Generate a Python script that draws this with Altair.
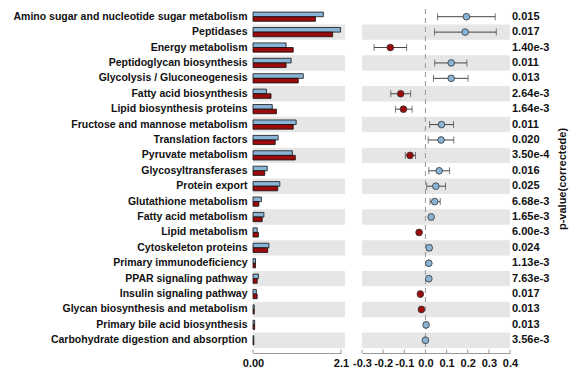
import altair as alt
import pandas as pd

categories = [
    "Amino sugar and nucleotide sugar metabolism", "Peptidases", "Energy metabolism",
    "Peptidoglycan biosynthesis", "Glycolysis / Gluconeogenesis", "Fatty acid biosynthesis",
    "Lipid biosynthesis proteins", "Fructose and mannose metabolism", "Translation factors",
    "Pyruvate metabolism", "Glycosyltransferases", "Protein export", "Glutathione metabolism",
    "Fatty acid metabolism", "Lipid metabolism", "Cytoskeleton proteins",
    "Primary immunodeficiency", "PPAR signaling pathway", "Insulin signaling pathway",
    "Glycan biosynthesis and metabolism", "Primary bile acid biosynthesis",
    "Carbohydrate digestion and absorption"]
mean_blue = [1.68, 2.09, 0.79, 0.91, 1.20, 0.32, 0.46, 1.03, 0.60, 0.94, 0.34, 0.64,
             0.20, 0.26, 0.10, 0.38, 0.06, 0.13, 0.08, 0.03, 0.04, 0.02]
mean_red = [1.49, 1.90, 0.96, 0.79, 1.08, 0.43, 0.56, 0.96, 0.53, 1.01, 0.28, 0.59,
            0.14, 0.22, 0.13, 0.35, 0.06, 0.10, 0.10, 0.03, 0.04, 0.02]
diff = [0.194, 0.188, -0.166, 0.122, 0.122, -0.117, -0.104, 0.076, 0.074, -0.073, 0.065,
        0.049, 0.044, 0.027, -0.030, 0.018, 0.016, 0.016, -0.024, -0.019, 0.003, 0.000]
ci_low = [0.057, 0.043, -0.243, 0.044, 0.038, -0.164, -0.142, 0.020, 0.013, -0.095, 0.016,
          0.006, 0.022, 0.020, -0.036, 0.008, 0.012, 0.012, -0.030, -0.024, 0.001, -0.002]
ci_high = [0.330, 0.335, -0.089, 0.196, 0.202, -0.070, -0.063, 0.133, 0.134, -0.047, 0.114,
           0.095, 0.070, 0.035, -0.024, 0.028, 0.020, 0.020, -0.018, -0.014, 0.005, 0.002]
pvalues = ["0.015", "0.017", "1.40e-3", "0.011", "0.013", "2.64e-3", "1.64e-3", "0.011",
           "0.020", "3.50e-4", "0.016", "0.025", "6.68e-3", "1.65e-3", "6.00e-3", "0.024",
           "1.13e-3", "7.63e-3", "0.017", "0.013", "0.013", "3.56e-3"]
left_ticks = [0.0, 2.1]
right_ticks = [-0.3, -0.2, -0.1, 0.0, 0.1, 0.2, 0.3, 0.4]

BLUE = "#8ab4d6"
RED = "#9c0b0b"
STRIPE = "#e6e6e6"
FONT = "Liberation Sans"
H = 339
WL = 88
WR = 148

df = pd.DataFrame({"cat": categories, "diff": diff, "lo": ci_low, "hi": ci_high, "p": pvalues})
df["idx"] = range(len(categories))
df["sign"] = ["pos" if d >= 0 else "neg" for d in diff]

bars_df = pd.concat([
    pd.DataFrame({"cat": categories, "value": mean_blue, "grp": "A"}),
    pd.DataFrame({"cat": categories, "value": mean_red, "grp": "B"}),
])

yscale = alt.Scale(domain=categories, paddingInner=0, paddingOuter=0)

# ---------- left panel ----------
y_left = alt.Y("cat:N", scale=yscale,
               axis=alt.Axis(title=None, ticks=False, domain=False, labelFont=FONT,
                             labelFontWeight="bold", labelFontSize=10.5, labelPadding=6,
                             labelColor="#111", labelLimit=400))

stripes_l = alt.Chart(df).transform_filter("datum.idx % 2 == 1").mark_rect(color=STRIPE).encode(
    y=y_left, x=alt.value(0), x2=alt.value(WL + 4))

xl_scale = alt.Scale(domain=[0, 2.1], nice=False)
xl_axis = alt.Axis(values=left_ticks, labelExpr="datum.value == 0 ? '0.00' : '2.1'",
                   ticks=False, grid=False, offset=5, domainColor="#999", labelFlush=False,
                   labelOverlap=False,
                   labelFont=FONT, labelFontWeight="bold", labelFontSize=11, labelColor="#111",
                   labelPadding=4, title="Mean proportion(%)", titleAnchor="start",
                   titleFont=FONT, titleFontWeight="bold", titleFontSize=11, titleColor="#111",
                   titlePadding=4)

bars = alt.Chart(bars_df).mark_bar(stroke="#111", strokeWidth=0.8).encode(
    x=alt.X("value:Q", scale=xl_scale, axis=xl_axis),
    y=alt.Y("cat:N", scale=yscale),
    yOffset=alt.YOffset("grp:N", scale=alt.Scale(domain=["A", "B"], paddingOuter=0.67, paddingInner=0)),
    color=alt.Color("grp:N", scale=alt.Scale(domain=["A", "B"], range=[BLUE, RED]), legend=None),
)

ticks_l = alt.Chart(pd.DataFrame({"value": left_ticks})).mark_rule(color="#999").encode(
    x=alt.X("value:Q", scale=xl_scale, axis=xl_axis), y=alt.value(H + 1.5), y2=alt.value(H + 5))

left = alt.layer(stripes_l, bars, ticks_l).properties(width=WL, height=H)

# ---------- right panel ----------
y_right = alt.Y("cat:N", scale=yscale,
                axis=alt.Axis(orient="right", labels=False, ticks=False, domain=False,
                              title="p-value(correctede)", titleAngle=270, titleFont=FONT,
                              titleFontWeight="bold", titleFontSize=11, titleColor="#111",
                              titlePadding=57))

stripes_r = alt.Chart(df).transform_filter("datum.idx % 2 == 1").mark_rect(color=STRIPE).encode(
    y=y_right, x=alt.value(0), x2=alt.value(WR))

xr_axis = alt.Axis(values=right_ticks,
                   labelExpr="(datum.value < -0.00001 ? '-' : '') + format(abs(datum.value), '.1f')",
                   ticks=False, grid=False, offset=5,
                   labelFlush=False, labelOverlap=False,
                   domainColor="#999", labelFont=FONT, labelFontWeight="bold", labelFontSize=11,
                   labelColor="#111", labelPadding=4, title="Difference in mean proportions(%)",
                   titleAnchor="start", titleFont=FONT, titleFontWeight="bold", titleFontSize=11,
                   titleColor="#111", titlePadding=4)
xr_scale = alt.Scale(domain=[-0.3, 0.4], nice=False)

zero = alt.Chart(pd.DataFrame({"lo": [0.0]})).mark_rule(
    color="#999", strokeDash=[5, 4], strokeWidth=1).encode(
    x=alt.X("lo:Q", scale=xr_scale, axis=xr_axis))

err = alt.Chart(df).mark_rule(color="#444", strokeWidth=1).encode(
    x=alt.X("lo:Q", scale=xr_scale, axis=xr_axis), x2="hi:Q", y=alt.Y("cat:N", scale=yscale))
cap_lo = alt.Chart(df).mark_tick(color="#444", thickness=1, size=7, orient="vertical").encode(
    x=alt.X("lo:Q", scale=xr_scale, axis=xr_axis), y=alt.Y("cat:N", scale=yscale))
cap_hi = alt.Chart(df).mark_tick(color="#444", thickness=1, size=7, orient="vertical").encode(
    x=alt.X("hi:Q", scale=xr_scale, axis=xr_axis), y=alt.Y("cat:N", scale=yscale))
pts = alt.Chart(df).mark_point(filled=True, size=45, stroke="#333", strokeWidth=0.8, opacity=1).encode(
    x=alt.X("diff:Q", scale=xr_scale, axis=xr_axis), y=alt.Y("cat:N", scale=yscale),
    fill=alt.Fill("sign:N", scale=alt.Scale(domain=["pos", "neg"], range=[BLUE, RED]), legend=None))

ptext = alt.Chart(df).mark_text(align="left", baseline="middle", font=FONT, fontWeight="bold",
                                fontSize=11, color="#111").encode(
    x=alt.value(WR + 2), y=alt.Y("cat:N", scale=yscale), text="p:N")

ticks_r = alt.Chart(pd.DataFrame({"lo": right_ticks})).mark_rule(color="#999").encode(
    x=alt.X("lo:Q", scale=xr_scale, axis=xr_axis), y=alt.value(H + 1.5), y2=alt.value(H + 5))

right = alt.layer(stripes_r, zero, err, cap_lo, cap_hi, pts, ptext, ticks_r).properties(width=WR, height=H)

chart = alt.hconcat(left, right, spacing=21, bounds="flush").properties(
    padding={"left": 5, "top": 0, "right": 5, "bottom": 5}
).configure_view(stroke=None)

chart.save("out.html", embed_options={"renderer": "svg", "actions": False})
